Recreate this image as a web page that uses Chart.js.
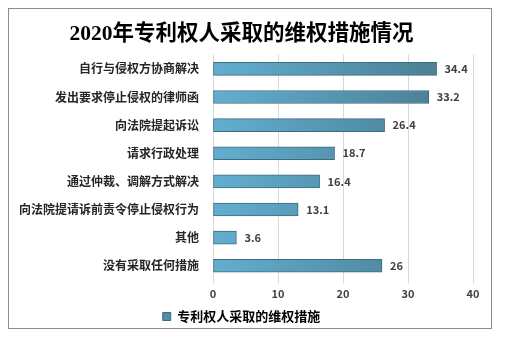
<!DOCTYPE html>
<html>
<head>
<meta charset="utf-8">
<script src="https://cdn.jsdelivr.net/npm/chart.js@4"></script>
<style>
  html, body { margin: 0; padding: 0; background: #fff; }
  #wrap { position: relative; width: 506px; height: 339px; }
  #frame { position: absolute; left: 8px; top: 8px; width: 484px; height: 321px; border: 1px solid #8c8c8c; box-sizing: border-box; }
  canvas { position: absolute; left: 0; top: 0; }
</style>
</head>
<body>
<div id="wrap">
  <div id="frame"></div>
  <canvas id="chart" width="506" height="339"></canvas>
</div>
<script>
// Categories and values
const categories = ["自行与侵权方协商解决", "发出要求停止侵权的律师函", "向法院提起诉讼", "请求行政处理",
  "通过仲裁、调解方式解决", "向法院提请诉前责令停止侵权行为", "其他", "没有采取任何措施"];
const values = [34.4, 33.2, 26.4, 18.7, 16.4, 13.1, 3.6, 26];
const seriesName = '专利权人采取的维权措施';
const titleText = '2020年专利权人采取的维权措施情况';

const cjk = '"Noto Sans CJK SC", "Noto Sans", sans-serif';

// Gradient fill for bars, light on the left, darker on the right
function barGradient(context) {
  const chart = context.chart;
  const area = chart.chartArea;
  if (!area) return '#5a9ab8';
  const g = chart.ctx.createLinearGradient(area.left, 0, area.left + 230, 0);
  g.addColorStop(0, '#62aed0');
  g.addColorStop(1, '#4b7f94');
  return g;
}

// Draw the value next to each bar
const valueLabels = {
  id: 'valueLabels',
  afterDatasetsDraw(chart) {
    const ctx = chart.ctx;
    const meta = chart.getDatasetMeta(0);
    ctx.save();
    ctx.font = 'bold 11px ' + cjk;
    ctx.fillStyle = '#404040';
    ctx.textBaseline = 'middle';
    meta.data.forEach((bar, i) => {
      ctx.fillText(String(values[i]), bar.x + 8, bar.y);
    });
    ctx.restore();
  }
};

const config = {
  type: 'bar',
  data: {
    labels: categories,
    datasets: [{
      label: seriesName,
      data: values,
      backgroundColor: barGradient,
      borderColor: '#3d6b7e',
      borderWidth: 1,
      borderSkipped: false,
      barThickness: 13
    }]
  },
  options: {
    indexAxis: 'y',
    responsive: false,
    animation: false,
    layout: { padding: { left: 10, right: 33, top: 6, bottom: 6 } },
    scales: {
      x: {
        min: 0,
        max: 40,
        ticks: { stepSize: 10, color: '#404040', font: { family: cjk, size: 11, weight: 'bold' }, padding: 3 },
        grid: { color: '#d9d9d9', drawTicks: true, tickLength: 4 },
        border: { display: false }
      },
      y: {
        ticks: { color: '#262626', font: { family: cjk, size: 12, weight: 'bold' }, padding: 6 },
        grid: { display: false },
        border: { display: false },
        afterFit(scale) { scale.width = 203; }
      }
    },
    plugins: {
      title: {
        display: true,
        text: titleText,
        color: '#000',
        font: { family: '"Liberation Serif", "Noto Sans CJK SC", serif', size: 21.5, weight: 'bold' },
        padding: { top: 16, bottom: 7 }
      },
      legend: {
        position: 'bottom',
        labels: {
          boxWidth: 8,
          boxHeight: 8,
          padding: 7,
          color: '#404040',
          font: { family: cjk, size: 13, weight: 'bold' },
          generateLabels() {
            return [{ text: seriesName, fillStyle: '#4f8fa9', strokeStyle: '#3d6b7e', lineWidth: 1 }];
          }
        }
      },
      tooltip: { enabled: false }
    }
  },
  plugins: [valueLabels]
};

document.addEventListener('DOMContentLoaded', function() {
  new Chart(document.getElementById('chart').getContext('2d'), config);
});
</script>
</body>
</html>
